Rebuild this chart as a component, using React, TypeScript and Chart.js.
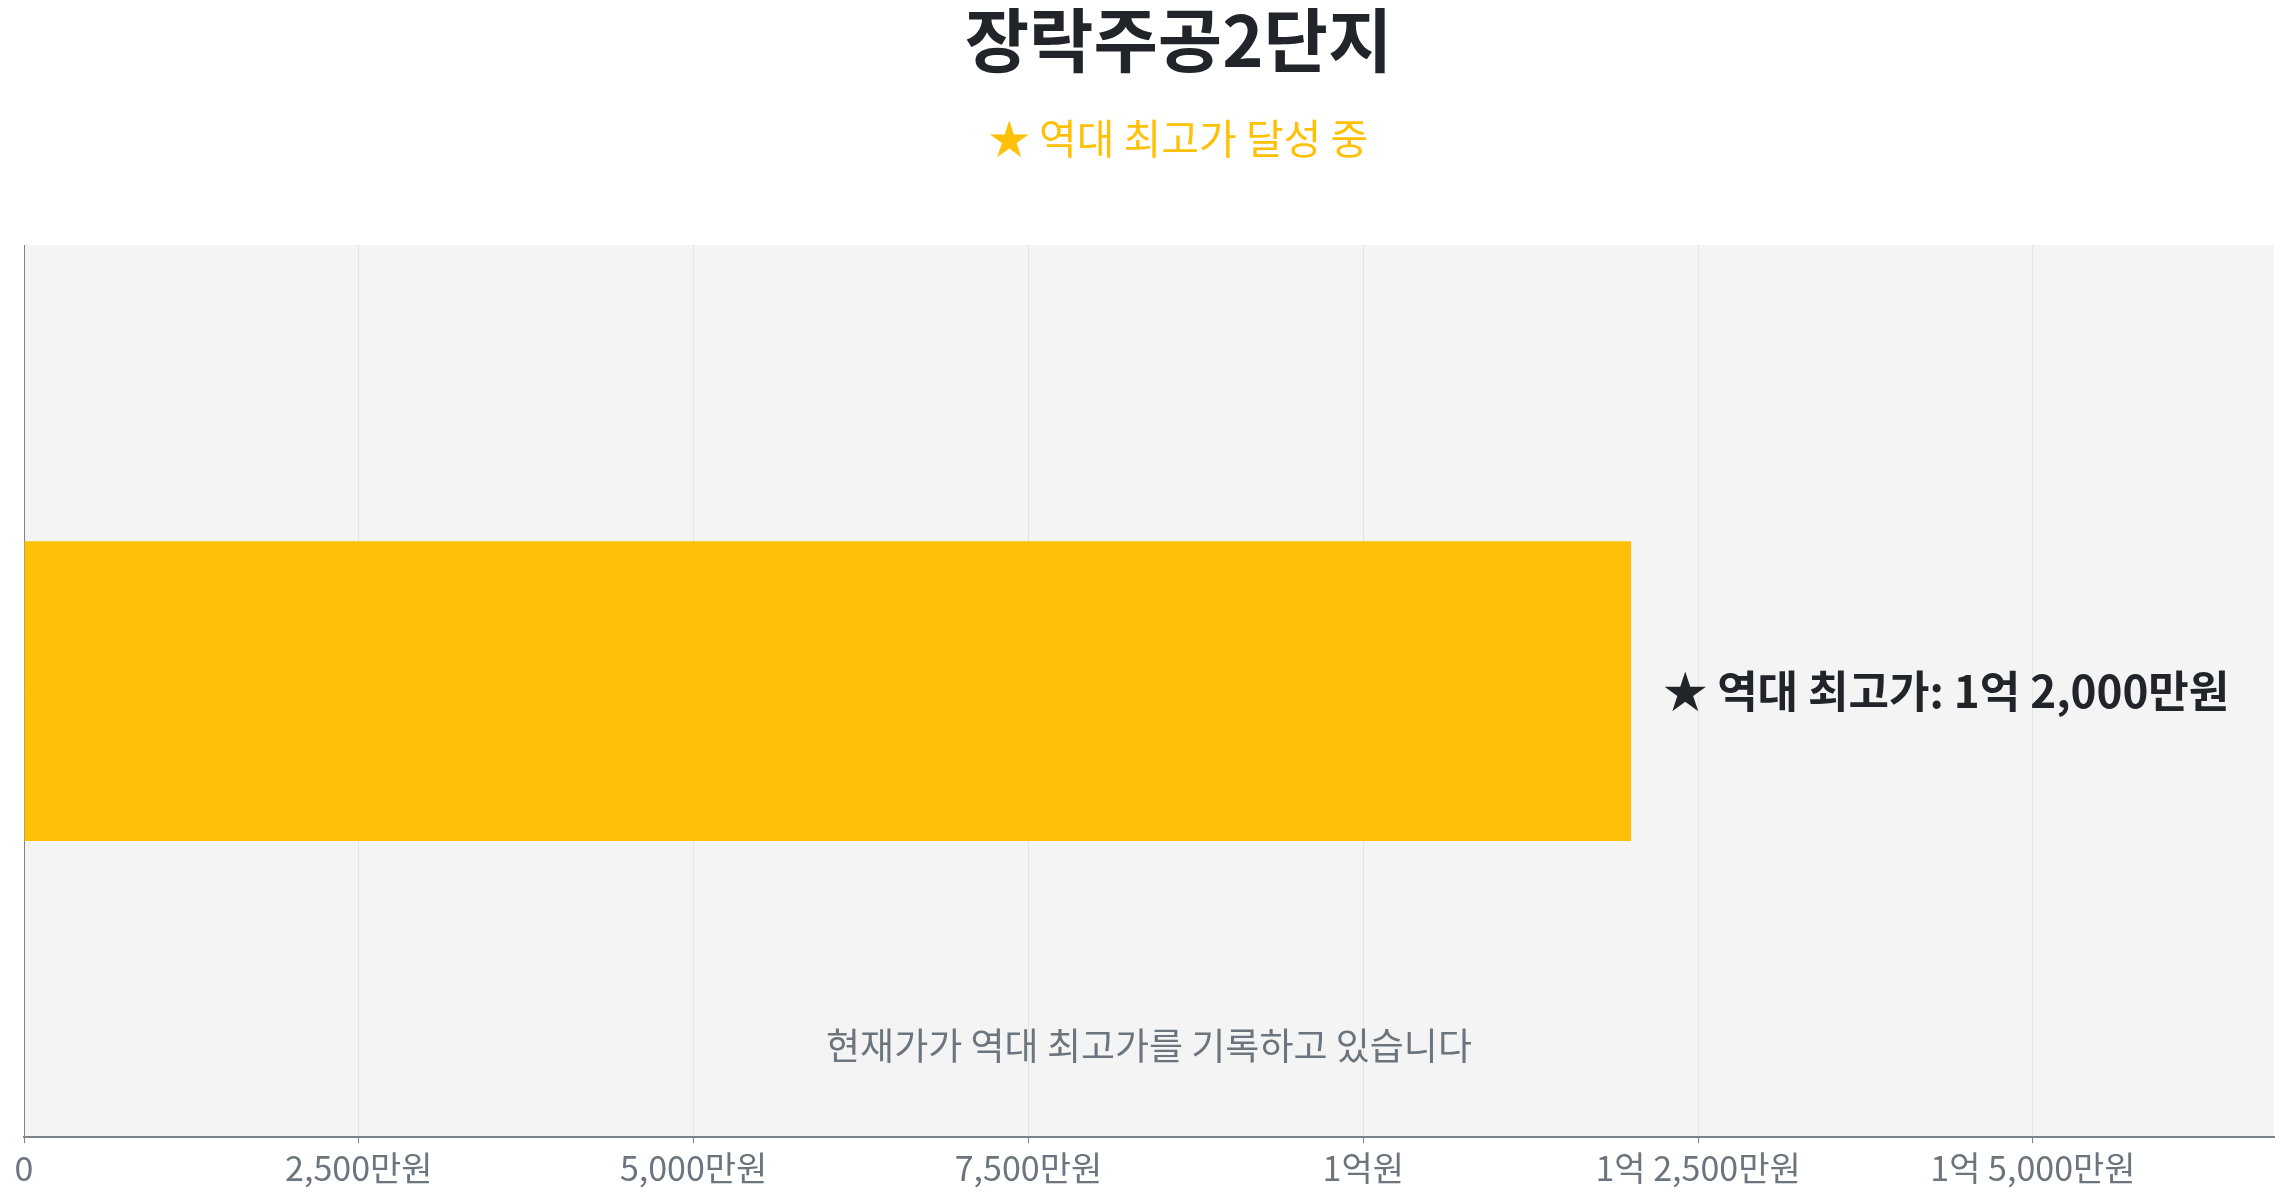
import { useEffect, useRef } from "react";
import { Chart, registerables } from "chart.js";

Chart.register(...registerables);

// 단위: 만원
const categories = ["장락주공2단지"];
const prices = [12000];
const axisMax = 16800;
const tickValues = [0, 2500, 5000, 7500, 10000, 12500, 15000];

const titleText = "장락주공2단지";
const subtitleText = "★ 역대 최고가 달성 중";
const noteText = "현재가가 역대 최고가를 기록하고 있습니다";

const FONT = "'Noto Sans CJK KR', 'Noto Sans', sans-serif";
const AMBER = "#ffc107";
const DARK = "#212529";
const GRAY = "#6c757d";

function formatPrice(v: number) {
    if (v === 0) return "0";
    const eok = Math.floor(v / 10000);
    const man = v % 10000;
    if (eok && man) return `${eok}억 ${man.toLocaleString("ko-KR")}만원`;
    if (eok) return `${eok}억원`;
    return `${man.toLocaleString("ko-KR")}만원`;
}

// 플롯 배경 + 제목/주석 텍스트
const overlayPlugin = {
    id: "overlay",
    beforeDraw(chart: any) {
        const { ctx, chartArea } = chart;
        ctx.save();
        ctx.fillStyle = "#f4f4f4";
        ctx.fillRect(chartArea.left, chartArea.top, chartArea.right - chartArea.left, chartArea.bottom - chartArea.top);
        ctx.restore();
    },
    afterDraw(chart: any) {
        const { ctx, chartArea } = chart;
        const cx = chart.width / 2 + 35;
        ctx.save();
        ctx.textAlign = "center";
        ctx.textBaseline = "middle";
        ctx.fillStyle = DARK;
        ctx.font = `bold 70px ${FONT}`;
        ctx.fillText(titleText, cx, 32);
        ctx.fillStyle = AMBER;
        ctx.font = `41px ${FONT}`;
        ctx.fillText(subtitleText, cx, 130);

        // 막대 옆 라벨
        const meta = chart.getDatasetMeta(0);
        meta.data.forEach((bar: any, i: number) => {
            ctx.textAlign = "left";
            ctx.fillStyle = DARK;
            ctx.font = `bold 44px ${FONT}`;
            ctx.fillText(`★ 역대 최고가: ${formatPrice(prices[i])}`, bar.x + 32, bar.y);
        });

        ctx.textAlign = "center";
        ctx.fillStyle = GRAY;
        ctx.font = `37px ${FONT}`;
        ctx.fillText(noteText, (chartArea.left + chartArea.right) / 2, chartArea.bottom - 91);
        ctx.restore();
    },
};

export default function App() {
    const canvasRef = useRef<HTMLCanvasElement>(null);

    useEffect(() => {
        if (!canvasRef.current) return;
        const ctx = canvasRef.current.getContext("2d");
        if (!ctx) return;

        const chart = new Chart(ctx, {
            type: "bar",
            data: {
                labels: categories,
                datasets: [
                    {
                        label: "현재가",
                        data: prices,
                        backgroundColor: AMBER,
                        borderWidth: 0,
                        barPercentage: 1,
                        categoryPercentage: 0.336,
                    },
                ],
            },
            options: {
                indexAxis: "y",
                animation: false,
                responsive: true,
                maintainAspectRatio: false,
                layout: { padding: { top: 237, right: 5, left: 8, bottom: 0 } },
                plugins: {
                    legend: { display: false },
                    tooltip: { enabled: false },
                    title: { display: false },
                },
                scales: {
                    x: {
                        type: "linear",
                        min: 0,
                        max: axisMax,
                        afterBuildTicks: (scale: any) => {
                            scale.ticks = tickValues.map((v) => ({ value: v }));
                        },
                        ticks: {
                            color: GRAY,
                            font: { family: FONT, size: 34 },
                            padding: 4,
                            callback: (v: any) => formatPrice(Number(v)),
                        },
                        grid: {
                            color: "#e4e4e4",
                            tickColor: "#7d838a",
                            tickLength: 6,
                            lineWidth: 1,
                        },
                        border: { color: "#7d838a", width: 2 },
                    },
                    y: {
                        ticks: { display: false },
                        grid: { display: false },
                        border: { display: true, color: "#7d838a", width: 1 },
                    },
                },
            },
            plugins: [overlayPlugin],
        });

        return () => {
            chart.destroy();
        };
    }, []);

    return (
        <div style={{ width: "100%", height: 1184 }}>
            <canvas ref={canvasRef} />
        </div>
    );
}
